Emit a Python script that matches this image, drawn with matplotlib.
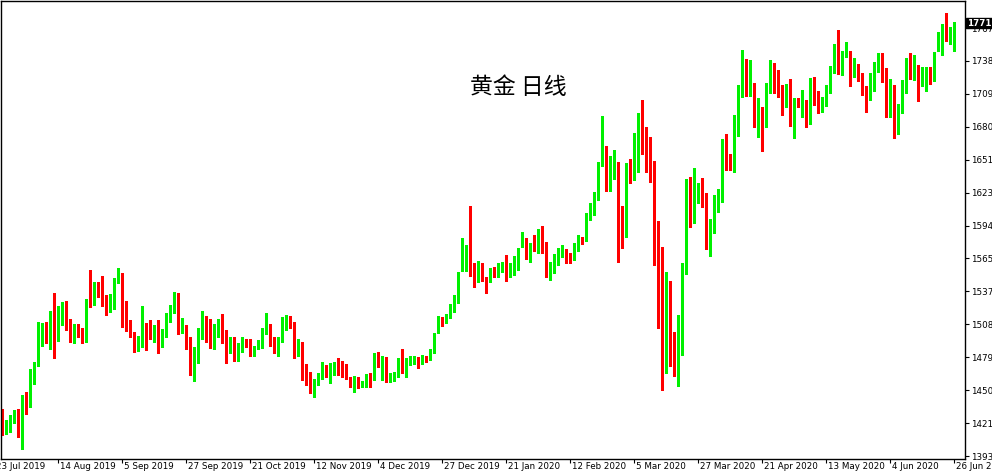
import matplotlib
matplotlib.use('Agg')
import matplotlib.pyplot as plt
from matplotlib.patches import Rectangle
from matplotlib.transforms import offset_copy

# daily gold candles, bar index 0 = 23 Jul 2019 (one bar per trading day)
first_bar = 2
opens = [1425.9, 1413.1, 1418.6, 1425.6, 1431.4, 1412.5, 1445.4, 1438.4, 1468.1, 1473.4,
         1499.6, 1504.8, 1496.7, 1511.0, 1501.6, 1515.6, 1522.9, 1512.4, 1495.8, 1507.5,
         1502.2, 1497.3, 1538.0, 1527.0, 1542.4, 1539.5, 1527.3, 1525.8, 1528.7, 1546.2,
         1552.0, 1517.1, 1508.3, 1498.7, 1485.0, 1496.7, 1498.7, 1506.6, 1497.8, 1501.6,
         1493.8, 1497.8, 1513.3, 1521.4, 1532.2, 1503.1, 1505.1, 1495.8, 1471.0, 1478.3,
         1498.1, 1505.4, 1512.4, 1492.9, 1504.3, 1505.4, 1493.8, 1486.5, 1493.8, 1479.8,
         1490.0, 1492.0, 1492.0, 1483.3, 1487.1, 1491.4, 1502.2, 1503.9, 1492.9, 1487.9,
         1495.8, 1512.4, 1514.2, 1510.1, 1481.8, 1490.0, 1468.1, 1460.0, 1454.4, 1455.0,
         1462.3, 1470.5, 1466.7, 1471.0, 1471.6, 1475.4, 1463.8, 1461.4, 1454.1, 1461.4,
         1453.5, 1455.0, 1463.8, 1460.9, 1477.5, 1474.5, 1476.0, 1458.8, 1460.0, 1462.9,
         1474.0, 1467.6, 1474.5, 1475.1, 1476.3, 1474.5, 1478.9, 1477.7, 1484.7, 1501.6,
         1511.3, 1511.0, 1514.2, 1519.7, 1527.8, 1559.0, 1564.3, 1576.5, 1556.0, 1552.6,
         1561.3, 1548.2, 1545.9, 1556.0, 1552.0, 1556.0, 1560.8, 1558.4, 1558.4, 1561.9,
         1580.3, 1581.7, 1566.6, 1577.4, 1574.4, 1593.4, 1577.4, 1552.0, 1555.5, 1566.6,
         1571.5, 1572.4, 1567.8, 1564.8, 1575.9, 1582.3, 1581.7, 1601.5, 1611.5, 1619.0,
         1652.2, 1659.5, 1634.2, 1640.0, 1644.4, 1591.9, 1587.0, 1640.6, 1636.5, 1672.0,
         1695.3, 1680.2, 1650.2, 1634.8, 1578.2, 1567.8, 1513.3, 1527.8, 1485.6, 1471.6,
         1503.1, 1552.0, 1621.0, 1615.2, 1626.9, 1632.7, 1619.6, 1574.4, 1589.0, 1613.2,
         1619.0, 1658.9, 1647.2, 1642.8, 1687.2, 1710.5, 1726.8, 1715.1, 1718.0, 1679.3,
         1695.3, 1684.2, 1713.4, 1730.9, 1725.9, 1712.8, 1707.5, 1711.9, 1686.0, 1702.6,
         1700.6, 1697.6, 1683.7, 1716.3, 1699.7, 1697.6, 1702.6, 1716.3, 1728.8, 1744.8,
         1731.7, 1743.4, 1747.2, 1725.9, 1735.5, 1728.0, 1709.3, 1707.5, 1717.2, 1734.6,
         1738.4, 1726.8, 1697.6, 1713.4, 1682.2, 1697.6, 1713.4, 1738.4, 1725.9, 1733.8,
         1724.4, 1725.0, 1726.8, 1721.5, 1752.1, 1754.2, 1767.6, 1759.4, 1762.9]
highs = [1433.8, 1424.4, 1428.8, 1433.2, 1433.8, 1446.3, 1449.2, 1469.3, 1475.4, 1510.4,
         1509.5, 1510.4, 1519.7, 1535.7, 1524.1, 1527.3, 1528.4, 1512.4, 1508.3, 1508.3,
         1504.5, 1529.9, 1555.5, 1544.7, 1545.3, 1550.3, 1533.7, 1534.3, 1548.2, 1557.0,
         1553.2, 1528.4, 1511.8, 1501.6, 1497.8, 1524.1, 1508.9, 1511.8, 1507.5, 1511.8,
         1503.7, 1518.2, 1524.9, 1536.6, 1535.7, 1513.3, 1507.5, 1496.7, 1488.0, 1504.5,
         1519.7, 1515.3, 1512.4, 1508.0, 1512.4, 1517.1, 1503.1, 1496.7, 1496.7, 1492.0,
         1496.7, 1494.9, 1494.9, 1489.1, 1494.3, 1504.5, 1518.2, 1508.3, 1496.7, 1497.3,
         1514.2, 1516.2, 1515.3, 1510.1, 1494.9, 1492.9, 1473.4, 1466.7, 1460.0, 1465.2,
         1475.4, 1472.5, 1474.5, 1475.4, 1478.3, 1476.3, 1473.4, 1462.3, 1462.9, 1462.3,
         1458.8, 1464.7, 1465.8, 1482.7, 1484.2, 1480.4, 1479.8, 1465.8, 1466.7, 1478.3,
         1486.2, 1478.3, 1480.4, 1480.4, 1479.8, 1481.2, 1480.4, 1486.2, 1500.8, 1515.3,
         1514.7, 1517.5, 1525.8, 1533.7, 1554.0, 1583.2, 1577.4, 1611.5, 1561.9, 1563.7,
         1561.9, 1549.7, 1556.9, 1557.8, 1561.9, 1562.8, 1568.6, 1561.9, 1567.8, 1574.4,
         1589.0, 1583.2, 1578.8, 1586.1, 1591.0, 1594.0, 1580.3, 1562.8, 1569.5, 1574.4,
         1577.4, 1573.6, 1570.6, 1578.8, 1586.1, 1584.6, 1605.6, 1613.8, 1624.0, 1650.2,
         1690.1, 1663.9, 1655.1, 1660.4, 1650.2, 1611.5, 1649.3, 1652.2, 1675.5, 1693.0,
         1704.1, 1680.2, 1672.0, 1651.1, 1598.6, 1575.9, 1554.0, 1546.2, 1501.6, 1516.2,
         1561.9, 1634.8, 1636.5, 1644.4, 1631.8, 1635.6, 1623.1, 1599.8, 1621.0, 1626.0,
         1669.7, 1674.3, 1656.9, 1691.0, 1717.2, 1747.7, 1739.6, 1739.0, 1719.2, 1705.5,
         1697.6, 1719.2, 1739.0, 1736.7, 1730.3, 1717.2, 1718.0, 1722.1, 1705.5, 1705.5,
         1712.8, 1704.0, 1723.0, 1724.4, 1712.2, 1707.0, 1717.2, 1733.8, 1753.0, 1765.2,
         1747.2, 1755.0, 1747.2, 1740.5, 1735.5, 1728.0, 1716.3, 1728.0, 1737.6, 1745.4,
         1745.4, 1731.7, 1722.1, 1717.2, 1700.6, 1721.5, 1740.5, 1745.4, 1743.4, 1734.6,
         1732.6, 1732.6, 1732.6, 1746.3, 1763.8, 1770.5, 1779.8, 1768.1, 1772.5]
lows = [1411.0, 1412.2, 1414.2, 1421.5, 1409.9, 1399.4, 1429.7, 1436.1, 1455.9, 1471.6,
        1489.4, 1491.4, 1486.5, 1478.9, 1493.8, 1507.5, 1503.1, 1492.9, 1491.4, 1496.7,
        1492.0, 1492.9, 1523.5, 1524.9, 1531.6, 1524.1, 1516.2, 1519.1, 1521.2, 1543.9,
        1506.0, 1502.5, 1496.7, 1484.2, 1485.0, 1488.5, 1485.6, 1494.9, 1492.9, 1482.7,
        1488.5, 1497.3, 1510.4, 1517.7, 1499.6, 1500.2, 1486.5, 1463.8, 1458.8, 1474.0,
        1494.9, 1492.9, 1487.7, 1486.5, 1496.7, 1492.0, 1474.0, 1482.7, 1476.3, 1476.3,
        1484.2, 1488.5, 1480.7, 1480.7, 1486.2, 1487.1, 1499.6, 1489.1, 1483.3, 1480.7,
        1492.9, 1503.1, 1504.5, 1478.9, 1480.7, 1459.4, 1455.0, 1447.8, 1444.8, 1455.0,
        1460.0, 1462.3, 1456.5, 1463.8, 1463.8, 1461.7, 1460.0, 1453.5, 1449.2, 1452.1,
        1453.0, 1453.5, 1453.5, 1459.4, 1471.0, 1459.4, 1457.9, 1457.9, 1458.8, 1461.7,
        1465.2, 1461.7, 1472.5, 1473.4, 1470.0, 1473.4, 1475.4, 1476.9, 1483.3, 1500.2,
        1506.6, 1509.0, 1513.3, 1518.5, 1527.0, 1555.0, 1555.0, 1550.0, 1540.4, 1545.3,
        1546.2, 1535.7, 1545.3, 1549.7, 1549.1, 1554.0, 1546.2, 1549.7, 1551.1, 1555.5,
        1576.0, 1564.8, 1562.8, 1572.4, 1570.1, 1570.1, 1549.1, 1546.8, 1552.6, 1559.9,
        1567.2, 1561.9, 1561.9, 1564.3, 1572.4, 1578.2, 1581.1, 1599.2, 1603.6, 1616.7,
        1646.4, 1624.8, 1624.8, 1634.8, 1562.8, 1574.4, 1584.6, 1631.8, 1634.2, 1641.4,
        1656.9, 1641.4, 1632.7, 1559.9, 1504.5, 1450.7, 1465.2, 1471.6, 1462.9, 1454.1,
        1481.2, 1552.0, 1593.4, 1596.3, 1613.8, 1610.3, 1573.6, 1567.8, 1587.6, 1606.5,
        1615.0, 1642.8, 1642.8, 1641.0, 1672.6, 1706.4, 1707.5, 1707.5, 1680.2, 1671.4,
        1659.8, 1680.2, 1710.5, 1710.5, 1706.4, 1691.0, 1697.6, 1681.3, 1670.6, 1698.2,
        1689.5, 1680.8, 1683.1, 1699.7, 1692.4, 1693.9, 1698.8, 1710.5, 1728.0, 1726.8,
        1725.9, 1741.9, 1716.3, 1724.4, 1721.0, 1708.4, 1693.9, 1704.0, 1712.2, 1728.8,
        1720.1, 1689.5, 1689.5, 1670.6, 1674.3, 1692.4, 1709.9, 1722.1, 1721.5, 1703.5,
        1716.3, 1712.2, 1718.0, 1720.9, 1747.2, 1743.4, 1755.9, 1753.0, 1747.2]
closes = [1413.4, 1418.0, 1427.4, 1430.9, 1410.5, 1443.4, 1440.2, 1463.8, 1474.5, 1501.6,
          1501.6, 1495.8, 1511.0, 1500.8, 1516.2, 1522.9, 1513.0, 1495.2, 1507.5, 1501.3,
          1497.3, 1526.4, 1527.0, 1542.4, 1538.6, 1527.0, 1519.7, 1529.3, 1547.4, 1552.6,
          1518.2, 1506.6, 1497.8, 1485.0, 1496.7, 1498.7, 1488.5, 1497.3, 1501.6, 1493.8,
          1498.7, 1517.1, 1522.0, 1532.2, 1503.1, 1505.1, 1496.4, 1471.6, 1479.8, 1499.6,
          1504.5, 1504.3, 1492.9, 1505.4, 1506.0, 1492.9, 1488.5, 1493.8, 1480.4, 1490.6,
          1491.4, 1490.0, 1484.2, 1488.0, 1492.0, 1503.7, 1504.5, 1492.0, 1487.1, 1495.8,
          1512.7, 1514.7, 1508.9, 1482.7, 1490.9, 1467.6, 1458.8, 1455.0, 1455.9, 1463.8,
          1471.6, 1467.6, 1471.6, 1472.5, 1471.0, 1464.4, 1461.4, 1454.1, 1461.4, 1453.5,
          1455.9, 1463.8, 1461.7, 1476.9, 1473.4, 1476.0, 1459.4, 1461.4, 1463.8, 1475.4,
          1468.7, 1476.3, 1476.3, 1476.3, 1474.5, 1478.3, 1476.9, 1485.6, 1499.6, 1511.0,
          1510.1, 1516.0, 1520.6, 1529.3, 1552.6, 1565.7, 1573.6, 1551.1, 1551.1, 1562.8,
          1546.8, 1545.9, 1556.0, 1552.0, 1557.0, 1560.8, 1557.0, 1559.0, 1562.8, 1571.5,
          1581.7, 1566.6, 1578.2, 1574.4, 1589.9, 1575.9, 1552.0, 1556.0, 1566.6, 1570.6,
          1572.4, 1567.2, 1564.8, 1577.4, 1584.6, 1580.3, 1602.1, 1612.3, 1620.2, 1643.5,
          1658.9, 1634.2, 1641.4, 1645.0, 1585.2, 1589.0, 1640.6, 1635.6, 1672.6, 1675.5,
          1680.2, 1649.3, 1634.2, 1576.5, 1528.7, 1513.9, 1527.8, 1485.0, 1471.6, 1498.7,
          1552.6, 1621.0, 1616.1, 1627.8, 1631.2, 1619.6, 1575.9, 1590.5, 1613.8, 1619.0,
          1660.4, 1647.2, 1643.5, 1683.1, 1712.8, 1725.9, 1715.1, 1718.0, 1683.7, 1695.9,
          1685.1, 1713.4, 1730.9, 1728.8, 1713.4, 1707.5, 1711.9, 1686.0, 1700.6, 1700.6,
          1705.5, 1682.2, 1716.3, 1703.5, 1695.9, 1703.5, 1716.3, 1730.3, 1743.4, 1732.6,
          1744.2, 1747.7, 1726.8, 1735.5, 1728.0, 1709.9, 1707.5, 1719.2, 1729.7, 1739.0,
          1725.9, 1697.6, 1713.4, 1685.1, 1697.6, 1714.2, 1738.4, 1726.8, 1730.9, 1724.4,
          1726.8, 1726.8, 1721.5, 1744.2, 1755.0, 1767.6, 1759.4, 1763.8, 1771.0]

tick_bars = [0, 16, 32, 48, 64, 80, 96, 112, 128, 144, 160, 176, 192, 208, 224, 240]
tick_dates = ['23 Jul 2019', '14 Aug 2019', '5 Sep 2019', '27 Sep 2019', '21 Oct 2019',
              '12 Nov 2019', '4 Dec 2019', '27 Dec 2019', '21 Jan 2020', '12 Feb 2020',
              '5 Mar 2020', '27 Mar 2020', '21 Apr 2020', '13 May 2020', '4 Jun 2020',
              '26 Jun 2020']
price_ticks = [1393.0, 1421.8, 1450.5, 1479.3, 1508.1, 1536.9, 1565.6, 1594.4, 1623.2,
               1651.9, 1680.7, 1709.5, 1738.3, 1767.0]
price_labels = ['1393', '1421', '1450', '1479', '1508', '1537', '1565', '1594', '1623',
                '1651', '1680', '1709', '1738', '1767']
last_price = '1771'
title = '黄金 日线'

W, H = 992, 475
up_col = '#00f000'
down_col = '#ff0000'

fig = plt.figure(figsize=(W / 100, H / 100), dpi=100)
ax = fig.add_axes([1 / W, (H - 459) / H, 964 / W, 458 / H])
ax.set_xlim(1.75, 242.75)
ax.set_ylim(1390.4, 1790.6)

bars = list(range(first_bar, first_bar + len(opens)))
cols = [up_col if c >= o else down_col for o, c in zip(opens, closes)]
ax.vlines(bars, lows, highs, colors=cols, linewidth=0.75, antialiased=False)
bottoms = [min(o, c) for o, c in zip(opens, closes)]
heights = [max(abs(c - o), 0.9) for o, c in zip(opens, closes)]
ax.bar(bars, heights, bottom=bottoms, width=0.75, color=cols, linewidth=0,
       antialiased=False)

for s in ax.spines.values():
    s.set_color('black')
    s.set_linewidth(1)

# price axis on the right
ax.yaxis.tick_right()
ax.set_yticks(price_ticks)
ax.set_yticklabels(price_labels)
ax.tick_params(axis='y', direction='out', length=3, width=0.8, pad=1.5,
               labelsize=6.3, colors='black')

# date axis: ticks with left-aligned labels
ax.set_xticks([b for b in tick_bars if 1.75 <= b <= 242.75])
ax.set_xticklabels([])
ax.tick_params(axis='x', direction='out', length=3, width=0.8)
lbl_tr = offset_copy(ax.get_xaxis_transform(), fig=fig, x=2, y=-3, units='dots')
for b, d in zip(tick_bars, tick_dates):
    ax.text(b, 0, d, transform=lbl_tr, ha='left', va='top', fontsize=6.3,
            clip_on=False)

# current price box
fig.add_artist(Rectangle((966 / W, (H - 28) / H), 26 / W, 10 / H,
                         transform=fig.transFigure, color='black', zorder=10))
fig.text(979 / W, (H - 23) / H, last_price, color='white', ha='center', va='center',
         fontsize=6.3, fontweight='bold', zorder=11)

fig.text(518 / W, (H - 88) / H, title, ha='center', va='center', fontsize=16.5,
         family=['Noto Sans CJK SC', 'DejaVu Sans'])

fig.savefig('out.png', dpi=100)
